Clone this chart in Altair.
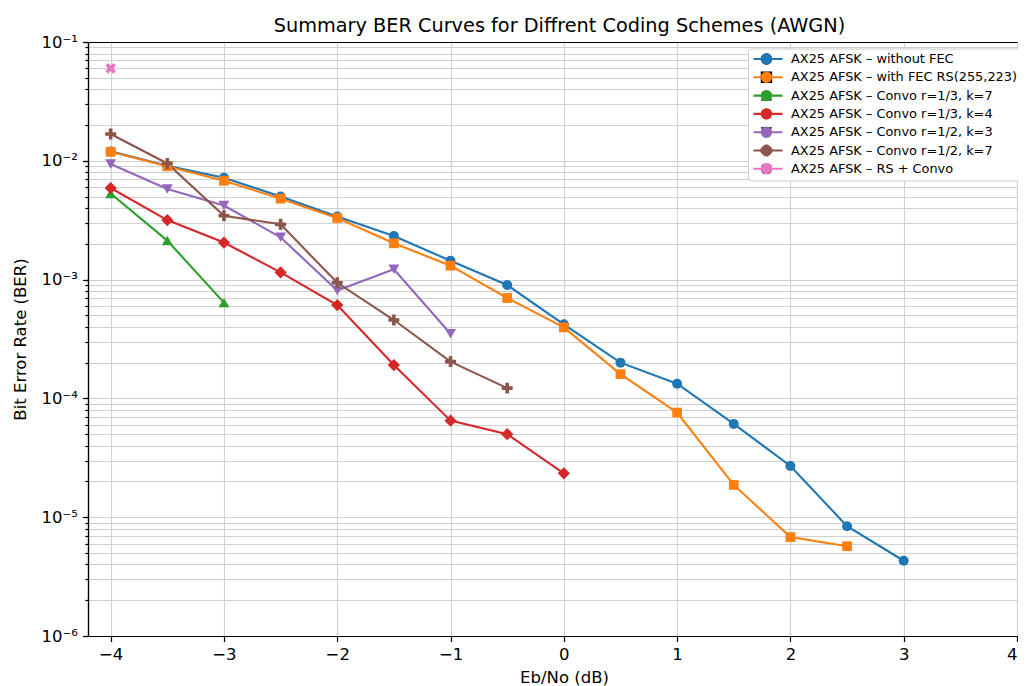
import math
import altair as alt
import pandas as pd

# ---------------- data ----------------
series_names = [
    "AX25 AFSK – without FEC",
    "AX25 AFSK – with FEC RS(255,223)",
    "AX25 AFSK – Convo r=1/3, k=7",
    "AX25 AFSK – Convo r=1/3, k=4",
    "AX25 AFSK – Convo r=1/2, k=3",
    "AX25 AFSK – Convo r=1/2, k=7",
    "AX25 AFSK – RS + Convo",
]
colors = ["#1f77b4", "#ff7f0e", "#2ca02c", "#d62728", "#9467bd", "#8c564b", "#e377c2"]

ebno_nofec = [-4, -3.5, -3, -2.5, -2, -1.5, -1, -0.5, 0, 0.5, 1, 1.5, 2, 2.5, 3]
ber_nofec = [0.0120, 0.0091, 0.0072, 0.0050, 0.0034, 0.00233, 0.00144, 0.00090,
             0.00042, 0.00020, 0.000133, 0.000061, 0.000027, 0.0000084, 0.0000043]

ebno_rs = [-4, -3.5, -3, -2.5, -2, -1.5, -1, -0.5, 0, 0.5, 1, 1.5, 2, 2.5]
ber_rs = [0.0119, 0.0090, 0.0068, 0.0048, 0.0033, 0.00202, 0.00131, 0.00070,
          0.000396, 0.00016, 0.000076, 0.0000187, 0.0000068, 0.0000057]

ebno_c37 = [-4, -3.5, -3]
ber_c37 = [0.0053, 0.00213, 0.00064]

ebno_c34 = [-4, -3.5, -3, -2.5, -2, -1.5, -1, -0.5, 0]
ber_c34 = [0.0059, 0.00317, 0.00205, 0.00115, 0.00061, 0.000191, 0.000065, 0.000050, 0.0000234]

ebno_c23 = [-4, -3.5, -3, -2.5, -2, -1.5, -1]
ber_c23 = [0.0094, 0.0058, 0.0042, 0.00227, 0.00081, 0.00122, 0.00035]

ebno_c27 = [-4, -3.5, -3, -2.5, -2, -1.5, -1, -0.5]
ber_c27 = [0.0168, 0.0095, 0.00345, 0.00292, 0.00094, 0.000457, 0.000204, 0.000122]

ebno_rsc = [-4]
ber_rsc = [0.060]

x_ticks = [-4, -3, -2, -1, 0, 1, 2, 3, 4]
y_major = [1e-6, 1e-5, 1e-4, 1e-3, 1e-2, 1e-1]
y_minor = [m * 10.0 ** e for e in range(-6, -1) for m in range(1, 10)] + [1e-1]

all_x = [ebno_nofec, ebno_rs, ebno_c37, ebno_c34, ebno_c23, ebno_c27, ebno_rsc]
all_y = [ber_nofec, ber_rs, ber_c37, ber_c34, ber_c23, ber_c27, ber_rsc]

# ---------------- marker styles ----------------
def plus_path(t=1 / 3, rotate=False):
    pts = [(-t, -1), (t, -1), (t, -t), (1, -t), (1, t), (t, t), (t, 1), (-t, 1),
           (-t, t), (-1, t), (-1, -t), (-t, -t)]
    if rotate:
        pts = [((x - y) / math.sqrt(2), (x + y) / math.sqrt(2)) for x, y in pts]
    return "M" + "L".join(f"{x:.3f},{y:.3f}" for x, y in pts) + "Z"

shapes = ["circle", "square", "triangle-up", "diamond", "triangle-down",
          plus_path(), plus_path(rotate=True)]
marker_sizes = [100, 95, 120, 150, 120, 120, 125]

rows = []
for name, xs_, ys_, ms in zip(series_names, all_x, all_y, marker_sizes):
    for xv, yv in zip(xs_, ys_):
        rows.append({"series": name, "series_b": name, "ebno": xv, "ber": yv, "msize": ms})
df = pd.DataFrame(rows)

xscale = alt.Scale(domain=[-4.2, 4.0], nice=False, zero=False)
yscale = alt.Scale(type="log", domain=[1e-6, 1e-1], nice=False)

FONT = "DejaVu Sans"

legend_lines = alt.Legend(
    title=None, orient="none", legendX=660, legendY=6.5, padding=4,
    fillColor="white", strokeColor="#cccccc", cornerRadius=3,
    symbolType="stroke", symbolSize=841, symbolStrokeWidth=2.1,
    clipHeight=13, labelOffset=7, labelFont=FONT, labelFontSize=12.9,
    labelColor="black", labelLimit=400, rowPadding=4.3, zindex=1,
)
legend_marks = alt.Legend(
    title=None, orient="none", legendX=672, legendY=10.5, padding=0,
    symbolSize=130, symbolStrokeWidth=0, symbolOpacity=1, labelExpr="''",
    clipHeight=13, labelFont=FONT, labelFontSize=12.9,
    rowPadding=4.3, zindex=2,
)

lines = alt.Chart(df).mark_line(strokeWidth=2.1).encode(
    x=alt.X("ebno:Q", scale=xscale,
            axis=alt.Axis(values=x_ticks, title="Eb/No (dB)", grid=True,
                          tickSize=5.6, labelPadding=5,
                          labelExpr="datum.value < 0 ? '−' + abs(datum.value) : '' + datum.value",
                          titleX=476, titleY=46, titleBaseline="alphabetic")),
    y=alt.Y("ber:Q", scale=yscale,
            axis=alt.Axis(orient="left", values=y_minor, labels=False, grid=True,
                          tickSize=3.2, title="Bit Error Rate (BER)",
                          titleX=-60, titleY=297)),
    color=alt.Color("series:N", sort=series_names, scale=alt.Scale(range=colors),
                    legend=legend_lines),
    order="ebno:Q",
)

points = alt.Chart(df).mark_point(filled=True, opacity=1, strokeWidth=0).encode(
    x=alt.X("ebno:Q", scale=xscale,
            axis=alt.Axis(orient="top", domain=True, ticks=False, labels=False,
                          grid=False, title=None)),
    y=alt.Y("ber:Q", scale=yscale,
            axis=alt.Axis(orient="left", values=y_major, grid=True, tickSize=5.6,
                          labelPadding=5, title=None,
                          labelExpr="'10⁻' + ['⁰','¹','²','³','⁴','⁵','⁶'][round(-log(datum.value)/LN10)]")),
    color=alt.Color("series_b:N", sort=series_names, scale=alt.Scale(range=colors),
                    legend=legend_marks),
    shape=alt.Shape("series_b:N", sort=series_names, scale=alt.Scale(range=shapes),
                    legend=legend_marks),
    size=alt.Size("msize:Q", scale=None),
)

chart = (
    alt.layer(lines, points)
    .resolve_scale(x="shared", y="shared", color="independent")
    .resolve_axis(x="independent", y="independent")
    .properties(
        width=929, height=594,
        padding={"left": 80, "top": 34, "right": 1, "bottom": 50},
        autosize=alt.AutoSizeParams(type="none"),
        title=alt.Title("Summary BER Curves for Diffrent Coding Schemes (AWGN)",
                        anchor="middle", frame="group", dx=7, offset=-2,
                        font=FONT, fontSize=19.3, fontWeight="normal", color="black"),
    )
    .configure(font=FONT)
    .configure_view(stroke=None)
    .configure_axis(
        domainColor="black", domainWidth=1.2, tickColor="black", tickWidth=1.2,
        gridColor="#d0d0d0", gridWidth=1.1,
        labelFont=FONT, labelFontSize=16.5, labelColor="black",
        titleFont=FONT, titleFontSize=16.5, titleFontWeight="normal", titleColor="black",
    )
)

chart.save("out.html", embed_options={"renderer": "svg", "actions": False})
